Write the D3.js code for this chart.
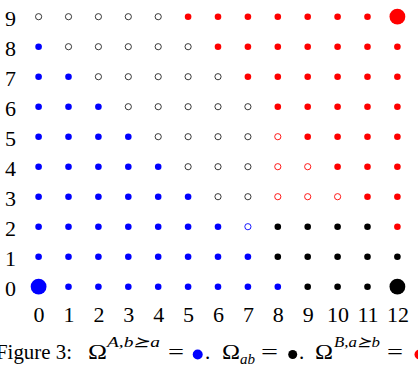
<!DOCTYPE html>
<html><head><meta charset="utf-8">
<script src="https://cdn.jsdelivr.net/npm/d3@7"></script>
<style>
html,body{margin:0;padding:0;background:#fff;}
svg{display:block;}
svg text{font-family:"Liberation Serif","DejaVu Serif",serif !important;fill:#000;}
</style></head>
<body>
<svg id="chart" width="418" height="370"></svg>
<script>
// ---- data ----
const xTicks = [0,1,2,3,4,5,6,7,8,9,10,11,12];
const yTicks = [0,1,2,3,4,5,6,7,8,9];
// rows listed from y = 9 down to y = 0; one code per x = 0..12
// b blue filled, B big blue, o black open, r red filled, R big red,
// q red open, k black filled, K big black, u blue open
const rowYs = [9,8,7,6,5,4,3,2,1,0];
const gridRows = [
  "ooooorrrrrrrR",
  "booooorrrrrrr",
  "bbooooorrrrrr",
  "bbbooooorrrrr",
  "bbbbooooqrrrr",
  "bbbbboooqqrrr",
  "bbbbbbooqqqrr",
  "bbbbbbbukkkkr",
  "bbbbbbbbkkkkk",
  "BbbbbbbbbkkkK"
];
const kindCodes  = ["b","B","o","r","R","q","k","K","u"];
const kindColors = ["#0000ff","#0000ff","#222222","#ff0000","#ff0000","#ff0000","#000000","#000000","#0000ff"];
const kindFilled = [true,true,false,true,true,false,true,true,false];
const kindBig    = [false,true,false,false,true,false,false,true,false];

// ---- build points ----
const points = [];
gridRows.forEach((row, i) => {
  row.split("").forEach((c, x) => {
    const k = kindCodes.indexOf(c);
    points.push({x: xTicks[x], y: rowYs[i], color: kindColors[k], filled: kindFilled[k], big: kindBig[k]});
  });
});

const svg = d3.select("#chart");
const xScale = d3.scaleLinear().domain([0,12]).range([38.6, 397.4]);
const yScale = d3.scaleLinear().domain([0,9]).range([286.7, 16.7]);

svg.append("g").selectAll("circle").data(points).join("circle")
  .attr("cx", d => xScale(d.x))
  .attr("cy", d => yScale(d.y))
  .attr("r", d => d.big ? 7.9 : (d.filled ? 3.3 : 3.1))
  .attr("fill", d => d.filled ? d.color : "none")
  .attr("stroke", d => d.filled ? "none" : d.color)
  .attr("stroke-width", 0.9);

// axes
const xAxis = svg.append("g").attr("transform","translate(0,321.7)")
  .call(d3.axisBottom(xScale).tickValues(xTicks).tickSize(0).tickFormat(d3.format("d")));
xAxis.attr("font-family", null).attr("font-size", null);
xAxis.select(".domain").remove();
xAxis.selectAll("text").attr("y",0).attr("dy",0)
  .style("font-size","22px").attr("fill","#000");

const yAxis = svg.append("g").attr("transform","translate(10.6,0)")
  .call(d3.axisLeft(yScale).tickValues(yTicks).tickSize(0).tickFormat(d3.format("d")));
yAxis.attr("font-family", null).attr("font-size", null);
yAxis.select(".domain").remove();
yAxis.selectAll("text").attr("x",0).attr("dy",8.3).attr("text-anchor","middle")
  .style("font-size","22px").attr("fill","#000");

// caption
const cap = svg.append("g");
const base = 359;
function t(x, y, s, size, italic, len){
  const el = cap.append("text").attr("x",x).attr("y",y).text(s)
    .style("font-size", size+"px").style("font-style", italic ? "italic" : "normal");
  if (len) el.attr("textLength", len).attr("lengthAdjust", "spacingAndGlyphs");
}
t(-4, base, "Figure 3:", 21, false, 76);
t(88, base, "Ω", 21, false, 19);
t(107, 347, "A,b⪰a", 15, true, 53);
t(168, base, "=", 21, false, 16);
cap.append("circle").attr("cx",197.7).attr("cy",354.5).attr("r",5).attr("fill","#0000ff");
t(205, base, ".", 21, false);
t(222, base, "Ω", 21, false, 18);
t(240, 364, "ab", 15, true, 15);
t(261, base, "=", 21, false, 17);
cap.append("circle").attr("cx",292.7).attr("cy",354.5).attr("r",4.5).attr("fill","#000");
t(299, base, ".", 21, false);
t(315, base, "Ω", 21, false, 18);
t(334, 347, "B,a⪰b", 15, true, 46);
t(387, base, "=", 21, false, 16);
cap.append("circle").attr("cx",419.5).attr("cy",354.5).attr("r",5).attr("fill","#ff0000");
</script>
</body></html>
